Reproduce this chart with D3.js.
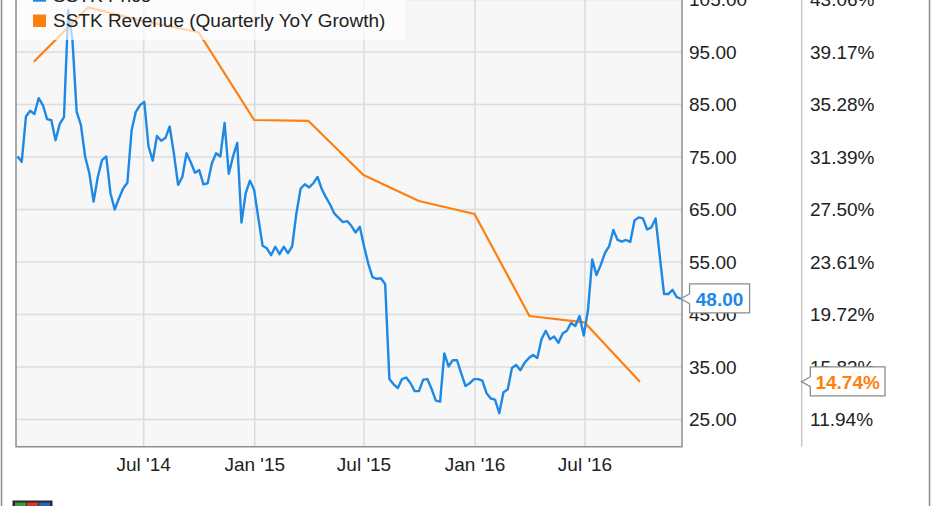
<!DOCTYPE html>
<html>
<head>
<meta charset="utf-8">
<script src="https://cdn.jsdelivr.net/npm/d3@7"></script>
<style>
  html, body { margin: 0; padding: 0; background: #fff; }
  svg { display: block; }
  text { font-family: "Liberation Sans", Arial, sans-serif; }
</style>
</head>
<body>
<svg id="chart" width="931" height="506"></svg>
<script>
// ---------- data ----------
const priceStart = "2013-12-04";           // first weekly close
const priceValues = [
  75.1, 74.1, 82.7, 83.8, 83.2, 86.2, 84.9, 82.2, 82.0, 78.2,
  81.3, 82.6, 103.0, 97.3, 83.6, 81.1, 75.1, 71.9, 66.5, 71.2,
  74.4, 75.1, 68.1, 65.0, 67.1, 69.0, 70.1, 80.1, 83.6, 84.9,
  85.5, 77.0, 74.3, 79.0, 78.1, 78.6, 80.8, 75.7, 69.7, 71.2,
  75.7, 74.0, 72.0, 72.5, 69.8, 70.0, 73.8, 75.7, 75.1, 81.5,
  71.8, 75.1, 77.7, 62.5, 68.1, 70.5, 68.7, 63.3, 58.1, 57.6,
  56.3, 57.9, 56.5, 57.9, 56.7, 58.0, 64.3, 69.0, 69.8, 69.2,
  70.0, 71.2, 68.9, 67.3, 65.9, 64.2, 63.4, 62.6, 62.8, 61.9,
  60.6, 61.7, 58.0, 54.7, 52.1, 51.8, 51.9, 50.8, 32.7, 31.7,
  31.0, 32.7, 33.0, 31.9, 30.4, 30.4, 32.6, 32.7, 30.8, 28.6,
  28.4, 37.6, 35.1, 36.3, 36.3, 33.8, 31.4, 31.9, 32.7, 32.7,
  32.4, 30.0, 29.0, 28.8, 26.2, 30.2, 30.7, 34.8, 35.4, 34.4,
  35.8, 36.7, 37.3, 36.7, 40.3, 41.9, 40.3, 40.8, 39.6, 41.4,
  41.9, 43.4, 42.8, 44.7, 41.0, 45.9, 55.5, 52.5, 54.4, 56.7,
  58.0, 61.1, 59.2, 58.9, 59.2, 58.8, 62.9, 63.5, 63.3, 61.2,
  61.6, 63.3, 56.0, 48.9, 48.9, 49.7, 48.3, 48.0
];
const revenueDates = ["2013-12-31","2014-03-31","2014-06-30","2014-09-30","2014-12-31","2015-03-31",
                      "2015-06-30","2015-09-30","2015-12-31","2016-03-31","2016-06-30","2016-09-30"];
const revenueValues = [38.45, 42.48, 41.47, 40.63, 34.13, 34.06, 30.06, 28.13, 27.17, 19.61, 19.14, 14.74];

const leftTicks = [25, 35, 45, 55, 65, 75, 85, 95, 105];
const rightTickLabels = ["11.94%", "15.83%", "19.72%", "23.61%", "27.50%", "31.39%", "35.28%", "39.17%", "43.06%"];
const xTickDates = ["2014-07-01", "2015-01-01", "2015-07-01", "2016-01-01", "2016-07-01"];
const xTickLabels = ["Jul '14", "Jan '15", "Jul '15", "Jan '16", "Jul '16"];
const seriesNames = ["SSTK Price", "SSTK Revenue (Quarterly YoY Growth)"];
const lastPriceLabel = "48.00";
const lastRevenueLabel = "14.74%";

// ---------- layout ----------
const W = 931, H = 506;
const plot = { left: 16, right: 682, top: -60, bottom: 446.8 };
const blue = "#1e88e5", orange = "#ff7f0e";
const parse = d3.utcParse("%Y-%m-%d");

const x = d3.scaleUtc()
  .domain([new Date(Date.UTC(2013, 11, 1, 12)), new Date(Date.UTC(2016, 11, 8, 17))])
  .range([plot.left, plot.right]);
const yL = d3.scaleLinear().domain([19.8, 105]).range([446.8, -0.5]);
// right axis: 11.94% aligned with 25, 3.89% per 10
const pctAt = v => 11.94 + (v - 25) * 0.389;
const yR = d3.scaleLinear().domain([pctAt(19.8), pctAt(105)]).range([446.8, -0.5]);

const start = parse(priceStart);
const price = priceValues.map((v, i) => ({ d: d3.utcDay.offset(start, 7 * i), v }));
const revenue = revenueDates.map((s, i) => ({ d: parse(s), v: revenueValues[i] }));

const svg = d3.select("#chart");
svg.append("rect").attr("width", W).attr("height", H).attr("fill", "#fff");

// outer frame lines
svg.append("line").attr("x1", 1.5).attr("x2", 1.5).attr("y1", 0).attr("y2", H)
  .attr("stroke", "#8c8c8c").attr("stroke-width", 1.5);
svg.append("line").attr("x1", 929.5).attr("x2", 929.5).attr("y1", 0).attr("y2", H)
  .attr("stroke", "#8c8c8c").attr("stroke-width", 1.5);

// plot background
svg.append("rect")
  .attr("x", plot.left).attr("y", plot.top)
  .attr("width", plot.right - plot.left).attr("height", plot.bottom - plot.top)
  .attr("fill", "#f7f7f7");

// grid
const grid = svg.append("g").attr("stroke", "#dcdcdc").attr("stroke-width", 1.5);
grid.selectAll("line.h").data(leftTicks).join("line")
  .attr("x1", plot.left).attr("x2", plot.right)
  .attr("y1", d => yL(d)).attr("y2", d => yL(d));
grid.selectAll("line.v").data(xTickDates).join("line")
  .attr("x1", d => x(parse(d))).attr("x2", d => x(parse(d)))
  .attr("y1", plot.top).attr("y2", plot.bottom);

// lines
svg.append("path").datum(revenue)
  .attr("fill", "none").attr("stroke", orange).attr("stroke-width", 2.2)
  .attr("stroke-linejoin", "round")
  .attr("d", d3.line().x(d => x(d.d)).y(d => yR(d.v)));
svg.append("path").datum(price)
  .attr("fill", "none").attr("stroke", blue).attr("stroke-width", 2.4)
  .attr("stroke-linejoin", "round")
  .attr("d", d3.line().x(d => x(d.d)).y(d => yL(d.v)));

// legend (semi-transparent, over the lines)
svg.append("rect").attr("x", plot.left + 1).attr("y", -60).attr("width", 388).attr("height", 100)
  .attr("fill", "#fff").attr("opacity", 0.65);
const legend = svg.append("g");
[blue, orange].forEach((c, i) => {
  const by = 27 - (1 - i) * 25.3;
  legend.append("rect").attr("x", 33).attr("y", by - 12.5).attr("width", 13).attr("height", 12.5).attr("fill", c);
  legend.append("text").attr("x", 53).attr("y", by).attr("font-size", 19).attr("fill", "#222")
    .text(seriesNames[i]);
});

// plot borders
svg.append("path")
  .attr("d", `M${plot.left},${plot.top}V${plot.bottom}H${plot.right}V${plot.top}`)
  .attr("fill", "none").attr("stroke", "#8f8f8f").attr("stroke-width", 1.5);
// right axis line
svg.append("line").attr("x1", 801.7).attr("x2", 801.7).attr("y1", plot.top).attr("y2", plot.bottom)
  .attr("stroke", "#c8c8c8").attr("stroke-width", 1.5);

// axis labels
const axisG = svg.append("g").attr("font-size", 19).attr("fill", "#222");
axisG.selectAll("text.l").data(leftTicks).join("text")
  .attr("x", 689).attr("y", d => yL(d)).attr("dy", "0.35em")
  .text(d => d.toFixed(2));
axisG.selectAll("text.r").data(rightTickLabels).join("text")
  .attr("x", 810).attr("y", (d, i) => yR(pctAt(leftTicks[i]))).attr("dy", "0.35em")
  .text(d => d);
axisG.selectAll("text.x").data(xTickDates).join("text")
  .attr("x", d => x(parse(d))).attr("y", 470.7).attr("text-anchor", "middle")
  .text((d, i) => xTickLabels[i]);

// callout labels
function callout(tipX, tipY, boxW, text, color) {
  const bx = tipX + 8.6, top = tipY - 14.8, bot = tipY + 14.2;
  const g = svg.append("g");
  g.append("path")
    .attr("d", `M${tipX},${tipY}L${bx},${tipY - 5}V${top}H${bx + boxW}V${bot}H${bx}V${tipY + 5}Z`)
    .attr("fill", "#fff").attr("stroke", "#8a8a8a").attr("stroke-width", 1.3);
  g.append("text").attr("x", bx + boxW / 2).attr("y", tipY).attr("dy", "0.36em")
    .attr("text-anchor", "middle").attr("font-size", 19).attr("font-weight", "bold")
    .attr("fill", color).text(text);
}
const lastP = price[price.length - 1];
callout(x(lastP.d), yL(lastP.v), 60, lastPriceLabel, blue);
const lastR = revenue[revenue.length - 1];
callout(801.7, yR(lastR.v), 74.7, lastRevenueLabel, orange);

// small logo at bottom-left
const logo = svg.append("g");
logo.append("rect").attr("x", 12.5).attr("y", 500.5).attr("width", 40).attr("height", 8)
  .attr("fill", "#2a2a2a");
logo.append("rect").attr("x", 15).attr("y", 502.5).attr("width", 11).attr("height", 6).attr("fill", "#3a9a3a");
logo.append("rect").attr("x", 27).attr("y", 502.5).attr("width", 11).attr("height", 6).attr("fill", "#d33");
logo.append("rect").attr("x", 39).attr("y", 502.5).attr("width", 11).attr("height", 6).attr("fill", "#2d5fc4");
</script>
</body>
</html>
